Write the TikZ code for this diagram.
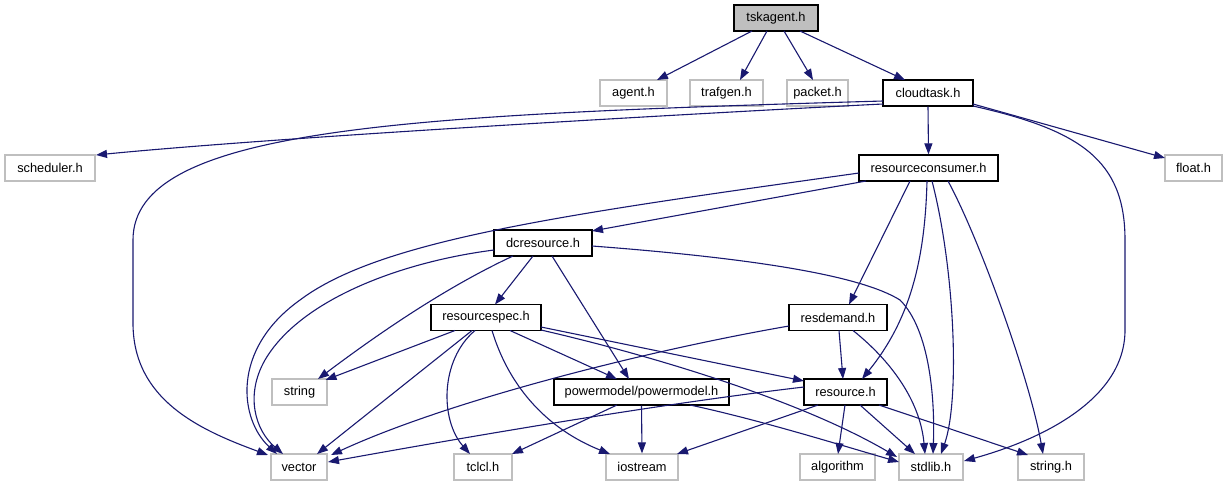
\documentclass[tikz,border=0pt]{standalone}
\usepackage{fontspec}
\setmainfont{Liberation Sans}
\usetikzlibrary{arrows.meta}
\definecolor{edgeblue}{HTML}{191970}
\definecolor{boxgray}{HTML}{BFBFBF}
\begin{document}
\begin{tikzpicture}[x=1pt,y=-1pt,
  filebox/.style={draw=black,line width=1.2pt,inner sep=0pt,
    font=\fontsize{12.8}{15}\selectfont,minimum height=26pt},
  extbox/.style={filebox,draw=boxgray},
  rootbox/.style={filebox,fill=boxgray},
  dep/.style={draw=edgeblue,line width=1.1pt,-{Triangle[length=11pt,width=8pt]}}]
\useasboundingbox (0,0) rectangle (1228,485);
% nodes
\node[rootbox,minimum width=84pt] (tsk) at (776,18) {tskagent.h};
\node[extbox,minimum width=67pt] (agent) at (633.5,93) {agent.h};
\node[extbox,minimum width=73pt] (trafgen) at (726.5,93) {trafgen.h};
\node[extbox,minimum width=61pt] (packet) at (817.5,93) {packet.h};
\node[filebox,minimum width=90pt] (cloud) at (928,93) {cloudtask.h};
\node[extbox,minimum width=90pt] (sched) at (50,168) {scheduler.h};
\node[filebox,minimum width=139pt] (rc) at (928.5,168) {resourceconsumer.h};
\node[extbox,minimum width=57pt] (float) at (1193.5,168) {float.h};
\node[filebox,minimum width=98pt] (dc) at (543,243) {dcresource.h};
\node[filebox,minimum width=110pt] (rspec) at (486,317.5) {resourcespec.h};
\node[filebox,minimum width=98pt] (rdem) at (838,317.5) {resdemand.h};
\node[extbox,minimum width=55pt] (str) at (299.5,392) {string};
\node[filebox,minimum width=175pt] (pm) at (641.5,392) {powermodel/powermodel.h};
\node[filebox,minimum width=83pt] (res) at (845.5,392) {resource.h};
\node[extbox,minimum width=56pt] (vec) at (299,467) {vector};
\node[extbox,minimum width=58pt] (tcl) at (483,467) {tclcl.h};
\node[extbox,minimum width=72pt] (ios) at (642,467) {iostream};
\node[extbox,minimum width=75pt] (alg) at (837.5,467) {algorithm};
\node[extbox,minimum width=64pt] (stdl) at (931,467) {stdlib.h};
\node[extbox,minimum width=66pt] (strh) at (1051,467) {string.h};
% tskagent.h
\draw[dep] ([shift={(-24,13)}]tsk.center) -- ([shift={(23.5,-13)}]agent.center);
\draw[dep] ([shift={(-9,13)}]tsk.center) -- ([shift={(13.5,-13)}]trafgen.center);
\draw[dep] ([shift={(8,13)}]tsk.center) -- ([shift={(-4.5,-13)}]packet.center);
\draw[dep] ([shift={(24,13)}]tsk.center) -- ([shift={(-23,-13)}]cloud.center);
% cloudtask.h
\draw[dep] ([shift={(-45,11)}]cloud.center) .. controls (780,109) and (300,135) .. ([shift={(46,-13)}]sched.center);
\draw[dep] ([shift={(-45,8)}]cloud.center) .. controls (400,115) and (133,128) .. (133,240)
  -- (133,323) .. controls (133,400) and (200,430) .. ([shift={(-31,-12)}]vec.center);
\draw[dep] (cloud.south) -- (rc.north);
\draw[dep] ([shift={(45,11)}]cloud.center) -- ([shift={(-28.5,-10)}]float.center);
\draw[dep] ([shift={(45,13)}]cloud.center) .. controls (1080,130) and (1125,160) .. (1125,240)
  -- (1125,330) .. controls (1125,400) and (1040,440) .. ([shift={(33,-6)}]stdl.center);
% resourceconsumer.h
\draw[dep] ([shift={(-69.5,5)}]rc.center) .. controls (560,215) and (380,240) .. (300,300)
  .. controls (230,350) and (240,420) .. ([shift={(-22,-13)}]vec.center);
\draw[dep] ([shift={(-62.5,13)}]rc.center) -- ([shift={(49,-12)}]dc.center);
\draw[dep] ([shift={(-18.5,13)}]rc.center) -- ([shift={(11,-13)}]rdem.center);
\draw[dep] ([shift={(-1.5,13)}]rc.center) .. controls (925,260) and (910,320) .. ([shift={(16.5,-13)}]res.center);
\draw[dep] ([shift={(3.5,13)}]rc.center) .. controls (955,270) and (960,400) .. ([shift={(10,-13)}]stdl.center);
\draw[dep] ([shift={(19.5,13)}]rc.center) .. controls (980,240) and (1030,380) .. ([shift={(-8,-13)}]strh.center);
% dcresource.h
\draw[dep] ([shift={(-49,7)}]dc.center) .. controls (400,262) and (300,300) .. (265,360)
  .. controls (245,395) and (255,430) .. ([shift={(-16,-13)}]vec.center);
\draw[dep] ([shift={(-30,13)}]dc.center) .. controls (440,290) and (370,340) .. ([shift={(18.5,-13)}]str.center);
\draw[dep] ([shift={(-10,13)}]dc.center) -- ([shift={(9,-13)}]rspec.center);
\draw[dep] ([shift={(9,13)}]dc.center) -- ([shift={(-12.5,-13)}]pm.center);
\draw[dep] ([shift={(49,3)}]dc.center) .. controls (750,258) and (860,275) .. (900,300)
  .. controls (930,330) and (935,400) .. ([shift={(2,-13)}]stdl.center);
% resourcespec.h
\draw[dep] ([shift={(-31,13)}]rspec.center) -- ([shift={(26,-12)}]str.center);
\draw[dep] ([shift={(-14,13)}]rspec.center) -- ([shift={(18,-13)}]vec.center);
\draw[dep] ([shift={(-11,13)}]rspec.center) .. controls (440,360) and (440,420) .. ([shift={(-13,-13)}]tcl.center);
\draw[dep] ([shift={(6,13)}]rspec.center) .. controls (510,390) and (550,430) .. ([shift={(-32,-13)}]ios.center);
\draw[dep] ([shift={(24,13)}]rspec.center) -- ([shift={(-24.5,-13)}]pm.center);
\draw[dep] ([shift={(55,9.5)}]rspec.center) -- ([shift={(-41.5,-11)}]res.center);
\draw[dep] ([shift={(55,12.5)}]rspec.center) .. controls (650,355) and (800,400) .. ([shift={(-34,-10)}]stdl.center);
% resdemand.h
\draw[dep] ([shift={(-49,8.5)}]rdem.center) .. controls (650,350) and (450,400) .. ([shift={(32,-12)}]vec.center);
\draw[dep] ([shift={(1,13)}]rdem.center) -- ([shift={(-2.5,-13)}]res.center);
\draw[dep] ([shift={(15,13)}]rdem.center) .. controls (890,360) and (920,400) .. ([shift={(-6,-13)}]stdl.center);
% powermodel/powermodel.h
\draw[dep] ([shift={(-24.5,13)}]pm.center) -- ([shift={(29,-13)}]tcl.center);
\draw[dep] (pm.south) -- (ios.north);
\draw[dep] ([shift={(48.5,13)}]pm.center) .. controls (760,420) and (840,445) .. ([shift={(-32,-5)}]stdl.center);
% resource.h
\draw[dep] ([shift={(-41.5,-5)}]res.center) .. controls (650,405) and (450,440) .. ([shift={(29,-5)}]vec.center);
\draw[dep] ([shift={(-27.5,13)}]res.center) -- ([shift={(35,-13)}]ios.center);
\draw[dep] ([shift={(-0.5,13)}]res.center) -- ([shift={(0.5,-13)}]alg.center);
\draw[dep] ([shift={(14.5,13)}]res.center) -- ([shift={(-16,-13)}]stdl.center);
\draw[dep] ([shift={(33.5,13)}]res.center) -- ([shift={(-23,-12)}]strh.center);
\end{tikzpicture}
\end{document}
